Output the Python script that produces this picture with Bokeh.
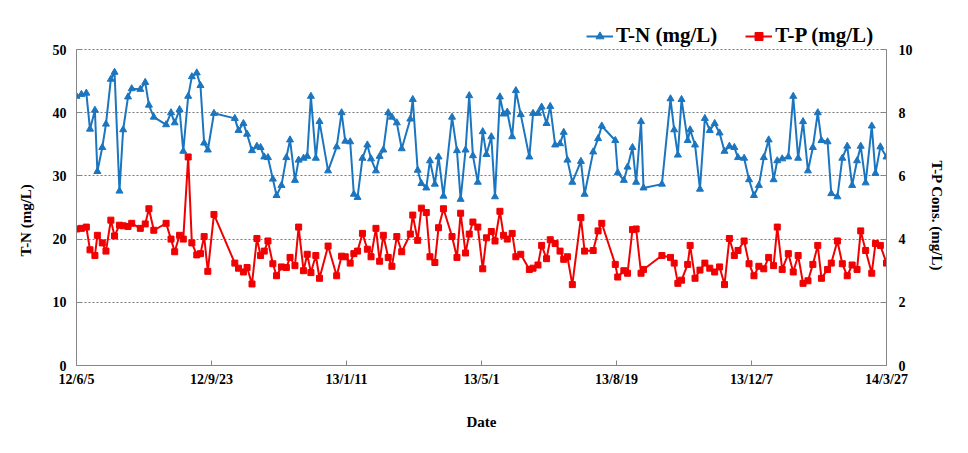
import pandas as pd
from bokeh.plotting import figure
from bokeh.models import (Range1d, LinearAxis, FixedTicker, DatetimeTickFormatter,
                          Legend, LegendItem, ColumnDataSource, Title)
from bokeh.embed import file_html
from bokeh.resources import INLINE

# ---------------- data ----------------
start_date = "2012-06-05"
# sampling day, counted from the start date
sample_day = [
    0, 4, 8, 11, 15, 17, 21, 24, 28, 31, 35, 38, 42, 45, 52, 56, 59, 63, 73, 77,
    80, 84, 87, 91, 94, 98, 101, 104, 107, 112, 129, 132, 136, 139, 143, 147, 150, 153, 156, 160,
    163,
    167, 171, 174, 178, 181, 185, 188, 191, 195, 198, 205, 212, 216, 219, 223, 226, 229, 233, 237, 240,
    244, 247, 250, 254, 257, 261, 265, 272, 274, 278, 281, 285, 288, 292, 295, 299, 306, 310, 313, 317,
    320, 323, 327, 331,
    334, 338, 341, 345, 348, 351, 355, 358, 362, 369, 372, 376, 379, 383, 386, 390, 394, 397, 400, 404,
    411, 414, 421, 425, 428, 439, 441, 446, 449, 453, 456, 460, 462, 477, 484, 487, 490, 493, 498,
    500, 504, 508, 512, 516, 520, 524, 528, 532, 536, 539, 544, 548, 552, 556, 560, 564, 568, 571, 575,
    580, 584, 588, 592, 596, 600, 604, 607, 612, 615, 620, 624, 628, 632, 636, 639, 643, 648, 651, 655,
    660,
]

tn_mg_l = [
    42.6, 42.9, 43.1, 37.4, 40.4, 30.7, 34.5, 38.2, 45.3, 46.4, 27.6, 37.3, 42.5, 43.8, 43.7, 44.8, 41.2, 39.3, 38.1, 40.0,
    38.4, 40.5, 33.9, 42.6, 45.7, 46.3, 44.3, 35.2, 34.1, 39.9, 39.1, 37.2, 38.3, 36.6, 34.0, 34.7, 34.5, 33.0, 32.9, 29.5,
    26.9,
    28.5, 32.9, 35.7, 29.3, 32.5, 32.8, 33.1, 42.6, 32.8, 38.6, 30.8, 34.6, 40.0, 35.5, 35.4, 27.1, 26.6, 32.8, 34.9, 32.7,
    30.8, 33.1, 34.1, 40.0, 39.3, 38.4, 34.3, 39.0, 42.1, 30.9, 28.8, 28.1, 32.4, 28.7, 33.0, 26.8, 39.3, 34.0, 26.3, 34.1,
    42.7, 33.2, 29.0, 37.0,
    33.4, 36.2, 26.7, 42.5, 39.8, 40.1, 36.2, 43.5, 39.7, 33.0, 39.9, 39.9, 40.9, 38.3, 41.0, 34.9, 35.1, 36.9, 32.5, 29.0,
    32.3, 27.1, 33.8, 35.9, 37.9, 35.6, 30.5, 29.3, 31.4, 34.5, 29.0, 38.6, 28.1, 28.7, 42.2, 37.3, 33.3, 42.1, 35.6,
    37.3, 34.9, 27.9, 39.1, 37.2, 38.3, 36.8, 33.9, 34.7, 34.5, 32.9, 32.8, 29.4, 26.9, 28.5, 32.9, 35.7, 29.4, 32.4, 32.7,
    33.0, 42.6, 32.8, 38.6, 30.8, 34.5, 40.0, 35.6, 35.4, 27.2, 26.7, 32.8, 34.7, 28.5, 32.4, 34.7, 28.9, 37.9, 30.4, 34.6,
    33.0,
]

tp_mg_l = [
    4.32, 4.34, 4.38, 3.66, 3.48, 4.12, 3.88, 3.62, 4.60, 4.10, 4.44, 4.42, 4.40, 4.50, 4.34, 4.48, 4.96, 4.28, 4.50, 4.00,
    3.60, 4.12, 4.00, 6.60, 3.88, 3.50, 3.54, 4.08, 2.98, 4.78, 3.24, 3.08, 2.96, 3.10, 2.58, 4.02, 3.48, 3.62, 3.94, 3.22,
    2.84,
    3.12, 3.10, 3.42, 3.16, 4.38, 3.00, 3.52, 2.94, 3.48, 2.76, 3.78, 2.84, 3.46, 3.44, 3.24, 3.54, 3.62, 4.18, 3.68, 3.44,
    4.34, 3.30, 4.12, 3.42, 3.14, 4.08, 3.60, 4.16, 4.76, 3.96, 4.98, 4.84, 3.44, 3.26, 4.36, 4.96, 4.08, 3.42, 4.82, 3.56,
    4.16, 4.54, 4.38, 3.06,
    4.04, 4.24, 3.94, 4.88, 4.12, 4.00, 4.18, 3.44, 3.52, 3.04, 3.08, 3.18, 3.80, 3.38, 3.98, 3.86, 3.62, 3.36, 3.44, 2.56,
    4.68, 3.62, 3.64, 4.26, 4.50, 3.20, 2.80, 3.00, 2.92, 4.30, 4.32, 2.92, 3.04, 3.48, 3.42, 3.24, 2.60, 2.70, 3.20,
    3.80, 2.76, 3.02, 3.24, 3.08, 2.96, 3.12, 2.56, 4.02, 3.48, 3.64, 3.94, 3.22, 2.84, 3.14, 3.06, 3.42, 3.16, 4.38, 3.04,
    3.54, 2.96, 3.48, 2.60, 2.68, 3.20, 3.80, 2.76, 3.04, 3.24, 3.94, 3.22, 2.84, 3.18, 3.04, 4.26, 3.64, 2.92, 3.86, 3.80,
    3.24,
]

x_tick_dates = ["2012-06-05", "2012-09-23", "2013-01-11", "2013-05-01",
                "2013-08-19", "2013-12-07", "2014-03-27"]
x_tick_labels = ["12/6/5", "12/9/23", "13/1/11", "13/5/1", "13/8/19", "13/12/7", "14/3/27"]
tn_ticks = [0, 10, 20, 30, 40, 50]
tp_ticks = [0, 2, 4, 6, 8, 10]

series_names = ["T-N (mg/L)", "T-P (mg/L)"]
x_title = "Date"
tn_title = "T-N (mg/L)"
tp_title = "T-P Cons. (mg/L)"

# ---------------- build ----------------
BLUE = "#1B75BF"
RED = "#F00000"
FONT = "Liberation Serif"
AXIS_GREY = "#868686"

# the frame is extended above the 50 / 10 line so that the legend (drawn in the
# frame area) is not clipped; axes are bounded to the real data span.
PLOT_H = 316          # pixel height of the 0..50 span
FRAME_H = 353         # frame incl. legend strip
stretch = FRAME_H / PLOT_H

dates = pd.Timestamp(start_date) + pd.to_timedelta(sample_day, unit="D")
src = ColumnDataSource(dict(date=dates, tn=tn_mg_l, tp=tp_mg_l))

tick_ms = [float(pd.Timestamp(d).value // 10**6) for d in x_tick_dates]

p = figure(frame_width=810, frame_height=FRAME_H, x_axis_type="datetime",
           output_backend="svg", toolbar_location=None,
           min_border_left=76, min_border_right=66, min_border_top=12, min_border_bottom=72,
           x_range=Range1d(pd.Timestamp(x_tick_dates[0]), pd.Timestamp(x_tick_dates[-1])),
           y_range=Range1d(tn_ticks[0], tn_ticks[-1] * stretch))
p.outline_line_color = None
p.background_fill_color = "white"
p.border_fill_color = "white"
p.extra_y_ranges = {"tp": Range1d(tp_ticks[0], tp_ticks[-1] * stretch)}

tn_line = p.line("date", "tn", source=src, line_color=BLUE, line_width=2)
tn_pts = p.scatter("date", "tn", source=src, marker="triangle", size=7,
                   fill_color=BLUE, line_color=BLUE)
tp_line = p.line("date", "tp", source=src, y_range_name="tp", line_color=RED, line_width=2)
tp_pts = p.scatter("date", "tp", source=src, y_range_name="tp", marker="square", size=6,
                   fill_color=RED, line_color=RED)

# x axis
xa = p.xaxis[0]
xa.ticker = FixedTicker(ticks=tick_ms)
xa.formatter = DatetimeTickFormatter(days="%y/%-m/%-d", months="%y/%-m/%-d", years="%y/%-m/%-d")
xa.major_label_overrides = {t: lab for t, lab in zip(tick_ms, x_tick_labels)}
xa.axis_label = x_title
xa.axis_label_standoff = 24
xa.major_label_standoff = 6

# left axis
ya = p.yaxis[0]
ya.ticker = FixedTicker(ticks=tn_ticks)
ya.bounds = (tn_ticks[0], tn_ticks[-1])
ya.major_label_standoff = 10

# right axis
ra = LinearAxis(y_range_name="tp", ticker=FixedTicker(ticks=tp_ticks),
                bounds=(tp_ticks[0], tp_ticks[-1]))
ra.major_label_standoff = 12
p.add_layout(ra, "right")

for ax in (xa, ya, ra):
    ax.axis_line_color = AXIS_GREY
    ax.major_tick_line_color = AXIS_GREY
    ax.major_tick_in = 5
    ax.major_tick_out = 0
    ax.minor_tick_line_color = None
    ax.major_label_text_font = FONT
    ax.major_label_text_font_style = "bold"
    ax.major_label_text_font_size = "14px"
    ax.major_label_text_color = "black"
    ax.axis_label_text_font = FONT
    ax.axis_label_text_font_style = "bold"
    ax.axis_label_text_font_size = "15px"
    ax.axis_label_text_color = "black"

# y-axis titles (as side titles so they can be centred on the 0..50 span)
title_kw = dict(text_font=FONT, text_font_style="bold", text_font_size="15px",
                text_color="black", vertical_align="top", align="left")
has_standoff = "standoff" in Title.properties()
left_title = Title(text=tn_title, offset=109, **title_kw)
right_title = Title(text=tp_title, offset=148, **title_kw)
if has_standoff:
    left_title.standoff = 28
    right_title.standoff = 23
p.add_layout(left_title, "left")
p.add_layout(right_title, "right")

p.xgrid.grid_line_color = None
p.ygrid.ticker = FixedTicker(ticks=tn_ticks)
p.ygrid.grid_line_color = "#777777"
p.ygrid.grid_line_dash = "2 2"
p.ygrid.grid_line_width = 1

legend = Legend(items=[LegendItem(label=series_names[0], renderers=[tn_line, tn_pts]),
                       LegendItem(label=series_names[1], renderers=[tp_line, tp_pts])],
                orientation="horizontal", location=(510, 317),
                glyph_width=27, glyph_height=20, label_standoff=3, spacing=28,
                padding=0, margin=0, border_line_color=None, background_fill_alpha=0,
                label_text_font=FONT, label_text_font_style="bold",
                label_text_font_size="21px", label_text_color="black")
p.add_layout(legend)

open("out.html", "w").write(file_html(p, INLINE))
